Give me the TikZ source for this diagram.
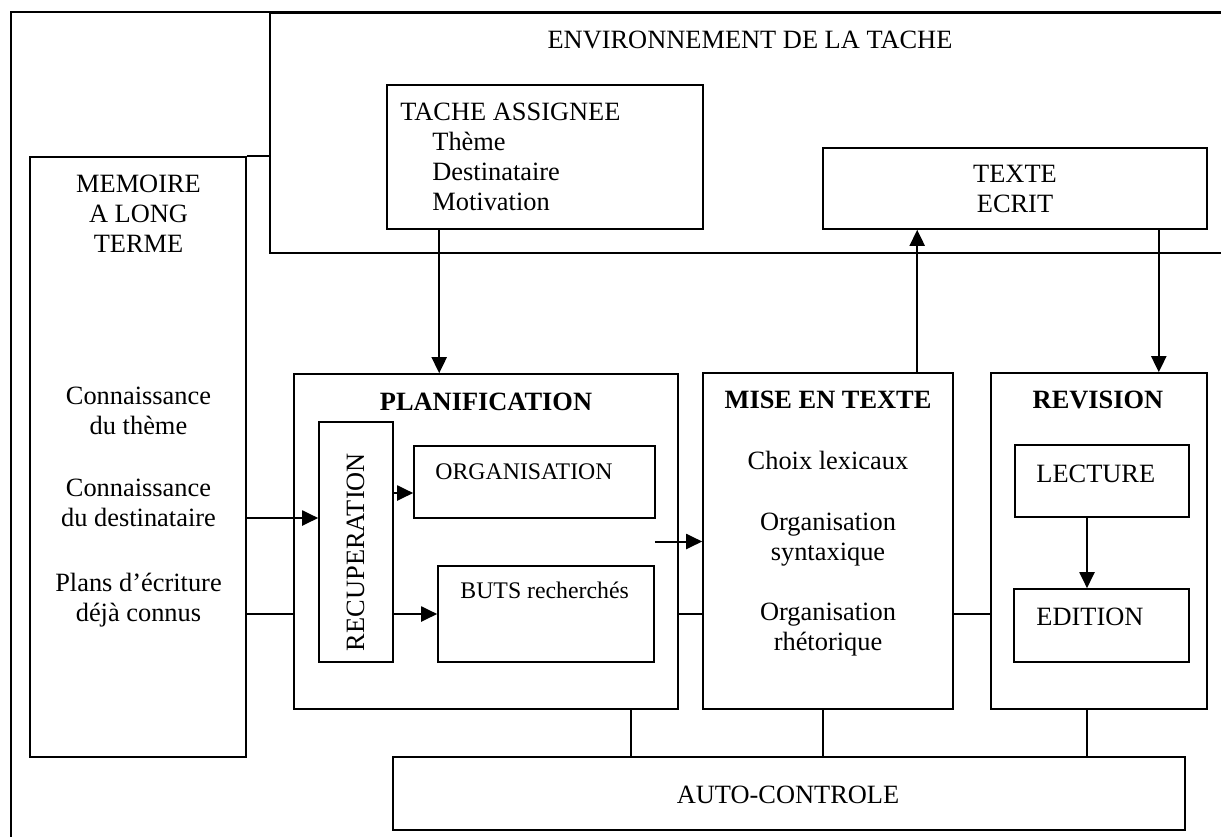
\documentclass[tikz,border=0pt]{standalone}
\usepackage{fontspec}
\setmainfont{Liberation Serif}
\usetikzlibrary{arrows.meta}
\newcommand\diagfont{\fontsize{13.2pt}{15pt}\selectfont}
\newcommand\boxfont{\fontsize{11.9pt}{14pt}\selectfont}
\begin{document}
\begin{tikzpicture}[
        x=0.5pt, y=-0.5pt,
        block/.style={draw, rectangle, line width=0.8pt, inner sep=0pt},% box of the model
        txt/.style={inner sep=0pt, font=\diagfont, align=center},% plain text
        head/.style={txt, font=\diagfont\bfseries},% title of a process
        flow/.style={line width=1pt, -{Triangle[length=8pt,width=7.5pt]}},% arrow between boxes
        link/.style={line width=0.8pt},% plain link line
        control/.style={line width=0.55pt},% link to the monitor
    ]
        \useasboundingbox (0,0) rectangle (1221,836);
        \draw[line width=1pt] (11,12) rectangle (1260,860);

        \node[block, minimum width=485pt, minimum height=120pt] (taskEnv) at (755,133) {};
        \node[block, minimum width=108pt, minimum height=300pt] (longTermMemory) at (138,457) {};
        \node[block, minimum width=158pt, minimum height=72pt] (assignedTask) at (545,157) {};
        \node[block, minimum width=192pt, minimum height=40.5pt] (writtenText) at (1015,188.5) {};
        \node[block, minimum width=192pt, minimum height=167.5pt] (planning) at (486,541.5) {};
        \node[block, minimum width=37pt, minimum height=120pt] (retrieval) at (356,542) {};
        \node[block, minimum width=120.5pt, minimum height=36pt] (organising) at (534.5,482) {};
        \node[block, minimum width=108pt, minimum height=48pt] (goals) at (546,614) {};
        \node[block, minimum width=125pt, minimum height=168pt] (translating) at (828,541) {};
        \node[block, minimum width=108pt, minimum height=168pt] (reviewing) at (1099,541) {};
        \node[block, minimum width=87pt, minimum height=36pt] (reading) at (1102,481) {};
        \node[block, minimum width=87.5pt, minimum height=36.5pt] (editing) at (1101.5,625.5) {};
        \node[block, minimum width=396pt, minimum height=36.5pt] (monitor) at (789,793.5) {};

        \node[txt, anchor=base] (envTitle) at (750,48) {ENVIRONNEMENT DE LA TACHE};
        \node[txt, anchor=north west, align=left] (taskText) at (400,103)
            {TACHE ASSIGNEE\\\hspace*{16pt}Thème\\\hspace*{16pt}Destinataire\\\hspace*{16pt}Motivation};
        \node[txt, anchor=north] (writtenLabel) at (1015,165) {TEXTE\\ECRIT};
        \node[txt, anchor=north] (memoryLabel) at (138.5,175) {MEMOIRE\\A LONG\\TERME};
        \node[txt, anchor=north] (topicKnow) at (138.5,387) {Connaissance\\du thème};
        \node[txt, anchor=north] (readerKnow) at (138.5,479) {Connaissance\\du destinataire};
        \node[txt, anchor=north] (knownPlans) at (138.5,573) {Plans d’écriture\\déjà connus};
        \node[head, anchor=base] (planningLabel) at (486,410) {PLANIFICATION};
        \node[txt, rotate=90] (retrievalLabel) at (355.5,552) {RECUPERATION};
        \node[txt, font=\boxfont, anchor=base west] (organisingLabel) at (435,479) {ORGANISATION};
        \node[txt, font=\boxfont, anchor=base west] (goalsLabel) at (460,598) {BUTS recherchés};
        \node[head, anchor=base] (translatingLabel) at (828,408) {MISE EN TEXTE};
        \node[txt, anchor=base] (lexical) at (828,469) {Choix lexicaux};
        \node[txt, anchor=north] (syntax) at (828,513) {Organisation\\syntaxique};
        \node[txt, anchor=north] (rhetoric) at (828,603) {Organisation\\rhétorique};
        \node[head, anchor=base] (reviewingLabel) at (1098,408) {REVISION};
        \node[txt, anchor=base west] (readingLabel) at (1036,482) {LECTURE};
        \node[txt, anchor=base west] (editingLabel) at (1036,625) {EDITION};
        \node[txt, anchor=base] (monitorLabel) at (788,803) {AUTO-CONTROLE};

        % memory joins the task environment
        \draw[link] (longTermMemory.north east) -- (longTermMemory.north east -| taskEnv.west);
        % task and written text
        \coordinate (taskDown) at ([xshift=26.5pt]assignedTask.south west);
        \draw[flow] (taskDown) -- (taskDown |- planning.north);
        \coordinate (textUp) at ([xshift=107.5pt]translating.north west);
        \draw[flow] (textUp) -- (textUp |- writtenText.south);
        \coordinate (textDown) at ([xshift=-24.5pt]writtenText.south east);
        \draw[flow] (textDown) -- (textDown |- reviewing.north);
        % inside planning
        \coordinate (memoryOut) at ([yshift=12pt]retrieval.west);
        \draw[flow] (memoryOut -| longTermMemory.east) -- (memoryOut);
        \coordinate (orgIn) at ([yshift=-5.5pt]organising.west);
        \draw[flow] (orgIn -| retrieval.east) -- (orgIn);
        \draw[flow] (retrieval.east |- goals.west) -- (goals.west);
        \draw[flow] (goals.east |- planning.center) -- (translating.west |- planning.center);
        % links between the processes
        \draw[link] (longTermMemory.east |- goals.west) -- (planning.west |- goals.west);
        \draw[link] (planning.east |- goals.west) -- (translating.west |- goals.west);
        \draw[link] (translating.east |- goals.west) -- (reviewing.west |- goals.west);
        \coordinate (editDown) at ([xshift=-7.5pt]reading.south);
        \draw[flow] (editDown) -- (editDown |- editing.north);
        \foreach \stage/\dx in {planning/72.5pt, translating/-2.5pt, reviewing/-6pt} {
            \coordinate (drop) at ([xshift=\dx]\stage.south);
            \draw[control] (drop) -- (drop |- monitor.north);
        }
\end{tikzpicture}
\end{document}
